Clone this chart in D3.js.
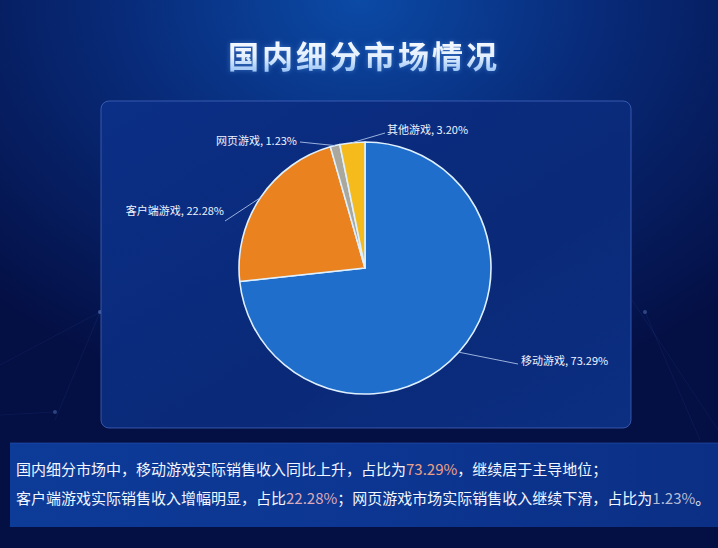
<!DOCTYPE html>
<html><head><meta charset="utf-8">
<script src="https://cdn.jsdelivr.net/npm/d3@7/dist/d3.min.js"></script>
<style>html,body{margin:0;padding:0;background:#061549;}svg{display:block;}</style>
</head><body>
<svg id="c" width="718" height="548"></svg>
<script>
const categories = ["移动游戏", "客户端游戏", "网页游戏", "其他游戏"];
const shares = [73.29, 22.28, 1.23, 3.20];
const colors = ["#1d66c2", "#e9821f", "#aaa89c", "#f5bb1d"];
const titleText = "国内细分市场情况";
const noteLine1 = [["国内细分市场中，移动游戏实际销售收入同比上升，占比为", null], ["73.29%", "#eda086"], ["，继续居于主导地位；", null]];
const noteLine2 = [["客户端游戏实际销售收入增幅明显，占比", null], ["22.28%", "#dcaab8"], ["；网页游戏市场实际销售收入继续下滑，占比为", null], ["1.23%", "#b4bcd6"], ["。", null]];

// layout (label end points and text anchors)
const labelLayout = [
  {end:[518,364], tx:521, ty:361, anchor:"start"},
  {end:[225,221], tx:224, ty:211, anchor:"end"},
  {end:[300,142], tx:297, ty:141, anchor:"end"},
  {end:[385,133], tx:387, ty:130, anchor:"start"}
];

const svg = d3.select("#c");
const W = 718, H = 548;
const defs = svg.append("defs");
const font = "'Noto Sans CJK SC','Noto Sans',sans-serif";

// background
const bg = defs.append("radialGradient").attr("id","bg").attr("cx","50%").attr("cy","0%").attr("r","75%");
bg.append("stop").attr("offset","0%").attr("stop-color","#0b4aa6");
bg.append("stop").attr("offset","45%").attr("stop-color","#082a78");
bg.append("stop").attr("offset","100%").attr("stop-color","#040f44");
svg.append("rect").attr("width",W).attr("height",H).attr("fill","url(#bg)");

// faint decorative lines
const deco = svg.append("g").attr("stroke","#3a62b8").attr("stroke-opacity",0.15).attr("stroke-width",0.8);
deco.append("line").attr("x1",0).attr("y1",365).attr("x2",100).attr("y2",312);
deco.append("line").attr("x1",100).attr("y1",312).attr("x2",55).attr("y2",420);
deco.append("line").attr("x1",0).attr("y1",415).attr("x2",55).attr("y2",412);
deco.append("line").attr("x1",632).attr("y1",300).attr("x2",718).attr("y2",430);
deco.append("line").attr("x1",645).attr("y1",312).attr("x2",700).attr("y2",440);
svg.append("circle").attr("cx",100).attr("cy",312).attr("r",2).attr("fill","#6f8fd8").attr("opacity",0.5);
svg.append("circle").attr("cx",55).attr("cy",412).attr("r",2).attr("fill","#6f8fd8").attr("opacity",0.4);
svg.append("circle").attr("cx",645).attr("cy",312).attr("r",2).attr("fill","#6f8fd8").attr("opacity",0.4);

// title
const tg = defs.append("linearGradient").attr("id","tg").attr("x1",0).attr("y1",0).attr("x2",0).attr("y2",1);
tg.append("stop").attr("offset","0%").attr("stop-color","#ffffff");
tg.append("stop").attr("offset","55%").attr("stop-color","#e4f0ff");
tg.append("stop").attr("offset","100%").attr("stop-color","#7fb4f0");
const glow = defs.append("filter").attr("id","glow").attr("x","-20%").attr("y","-50%").attr("width","140%").attr("height","200%");
glow.append("feGaussianBlur").attr("in","SourceAlpha").attr("stdDeviation",2.5).attr("result","b");
glow.append("feFlood").attr("flood-color","#6fb0ff").attr("flood-opacity",0.45);
glow.append("feComposite").attr("in2","b").attr("operator","in").attr("result","g");
const gm = glow.append("feMerge"); gm.append("feMergeNode").attr("in","g"); gm.append("feMergeNode").attr("in","SourceGraphic");
svg.append("text").attr("x",364).attr("y",68).attr("text-anchor","middle")
  .attr("font-family",font).attr("font-weight",700).attr("font-size",31).attr("letter-spacing",3)
  .attr("fill","url(#tg)").attr("filter","url(#glow)").text(titleText);

// chart panel
const pg = defs.append("linearGradient").attr("id","pg").attr("x1",0).attr("y1",0).attr("x2",1).attr("y2",1);
pg.append("stop").attr("offset","0%").attr("stop-color","#0b2f86");
pg.append("stop").attr("offset","60%").attr("stop-color","#0a2978");
pg.append("stop").attr("offset","100%").attr("stop-color","#0c2f82");
svg.append("rect").attr("x",101).attr("y",101).attr("width",530).attr("height",327).attr("rx",8)
  .attr("fill","url(#pg)").attr("stroke","#4a6cc4").attr("stroke-opacity",0.7).attr("stroke-width",1);

// pie
const cx = 365, cy = 268, R = 126;
const pie = d3.pie().sort(null).value(d => d.v);
const arcs = pie(categories.map((c,i)=>({c, v:shares[i], col:colors[i]})));
const arc = d3.arc().innerRadius(0).outerRadius(R);
const bgrad = defs.append("radialGradient").attr("id","blueg").attr("gradientUnits","userSpaceOnUse")
  .attr("cx",cx).attr("cy",cy).attr("r",R);
bgrad.append("stop").attr("offset","0%").attr("stop-color","#1656b2");
bgrad.append("stop").attr("offset","100%").attr("stop-color","#1f6ecb");
const gp = svg.append("g").attr("transform",`translate(${cx},${cy})`);
gp.selectAll("path").data(arcs).join("path")
  .attr("d",arc)
  .attr("fill",(d,i)=> i===0 ? "url(#blueg)" : d.data.col)
  .attr("stroke","#dff0ff").attr("stroke-width",1.6).attr("stroke-linejoin","round");

// labels
const lab = svg.append("g");
arcs.forEach((d,i)=>{
  const L = labelLayout[i];
  const a = (d.startAngle+d.endAngle)/2;
  const sx = cx + R*Math.sin(a), sy = cy - R*Math.cos(a);
  lab.append("line").attr("x1",sx).attr("y1",sy).attr("x2",L.end[0]).attr("y2",L.end[1])
    .attr("stroke","#a9c0e8").attr("stroke-width",0.9);
  lab.append("text").attr("x",L.tx).attr("y",L.ty).attr("dy","0.35em").attr("text-anchor",L.anchor)
    .attr("font-family",font).attr("font-size",11).attr("fill","#eef4ff")
    .text(`${d.data.c}, ${d.data.v.toFixed(2)}%`);
});

// bottom note panel
const ng = defs.append("linearGradient").attr("id","ng").attr("x1",0).attr("y1",0).attr("x2",1).attr("y2",0);
ng.append("stop").attr("offset","0%").attr("stop-color","#0d3b98");
ng.append("stop").attr("offset","60%").attr("stop-color","#0c3590");
ng.append("stop").attr("offset","100%").attr("stop-color","#0b2f84");
svg.append("rect").attr("x",10).attr("y",443).attr("width",708).attr("height",84).attr("fill","url(#ng)");
svg.append("line").attr("x1",10).attr("y1",443).attr("x2",718).attr("y2",443).attr("stroke","#2a55b0").attr("stroke-opacity",0.6);

function note(parts, y){
  const t = svg.append("text").attr("x",16).attr("y",y).attr("font-family",font).attr("font-size",15).attr("fill","#f2f6ff");
  parts.forEach(p=>{ const s=t.append("tspan").text(p[0]); if(p[1]) s.attr("fill",p[1]); });
}
note(noteLine1, 475);
note(noteLine2, 504);
</script>
</body></html>
